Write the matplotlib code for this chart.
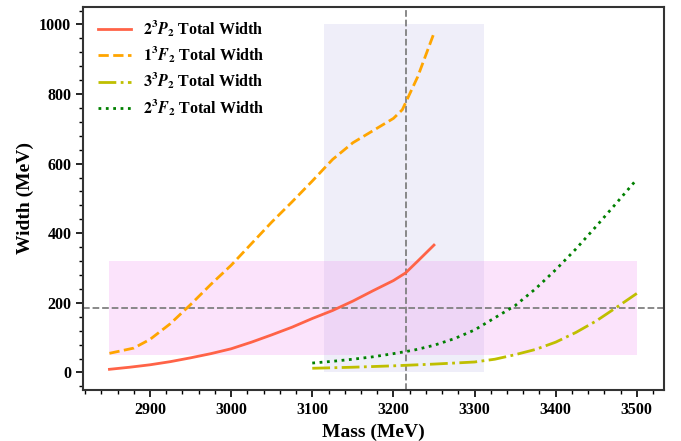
import matplotlib.pyplot as plt
from matplotlib.ticker import MultipleLocator

plt.rcParams['font.family'] = 'Liberation Serif'
plt.rcParams['font.weight'] = 'bold'
plt.rcParams['mathtext.fontset'] = 'stix'

# 2^3P_2
m_2p = [2850, 2875, 2900, 2925, 2950, 2975, 3000, 3025, 3050, 3075, 3100,
        3125, 3150, 3175, 3200, 3215, 3230, 3250]
w_2p = [9, 15, 22, 31, 42, 54, 68, 87, 108, 130, 155,
        178, 205, 235, 264, 286, 320, 366]

# 1^3F_2
m_1f = [2850, 2880, 2900, 2925, 2950, 2975, 3000, 3025, 3050, 3075, 3100,
        3125, 3150, 3175, 3200, 3211, 3230, 3250]
w_1f = [55, 70, 95, 140, 195, 253, 308, 370, 432, 490, 550,
        612, 660, 695, 730, 755, 850, 975]

# 3^3P_2
m_3p = [3100, 3150, 3200, 3250, 3300, 3325, 3350, 3375, 3400, 3425, 3450, 3475, 3500]
w_3p = [12, 15, 19, 24, 30, 38, 51, 66, 87, 115, 148, 187, 227]

# 2^3F_2
m_2f = [3100, 3125, 3150, 3175, 3200, 3225, 3250, 3275, 3300, 3325, 3350,
        3375, 3400, 3425, 3450, 3475, 3500]
w_2f = [27, 32, 38, 45, 54, 64, 78, 97, 122, 157, 192,
        240, 295, 355, 420, 487, 555]

# experimental mass / width bands
mass_c, mass_lo, mass_hi = 3215, 3115, 3312
width_c, width_lo, width_hi = 186, 50, 320

fig = plt.figure(figsize=(6.81, 4.41), dpi=100)
ax = fig.add_axes([0.122, 0.116, 0.853, 0.868])

ax.fill_between([mass_lo, mass_hi], 0, 1000, color='slateblue', alpha=0.1, lw=0)
ax.fill_between([2850, 3500], width_lo, width_hi, color='violet', alpha=0.22, lw=0)
ax.axvline(mass_c, color='gray', ls='--', lw=1.3)
ax.axhline(width_c, color='gray', ls='--', lw=1.3)

ax.plot(m_2p, w_2p, '-', color='tomato', lw=2, label=r'$2^3P_2$ Total Width')
ax.plot(m_1f, w_1f, '--', color='orange', lw=2, label=r'$1^3F_2$ Total Width')
ax.plot(m_3p, w_3p, '-.', color='y', lw=2, label=r'$3^3P_2$ Total Width')
ax.plot(m_2f, w_2f, ':', color='green', lw=2, label=r'$2^3F_2$ Total Width')

ax.set_xlim(2817.5, 3533.5)
ax.set_ylim(-50, 1050)
ax.xaxis.set_major_locator(MultipleLocator(100))
ax.xaxis.set_minor_locator(MultipleLocator(20))
ax.yaxis.set_major_locator(MultipleLocator(200))
ax.yaxis.set_minor_locator(MultipleLocator(40))
ax.tick_params(which='major', length=5, width=1.2, labelsize=11.5)
ax.tick_params(which='minor', length=3, width=1)
for s in ax.spines.values():
    s.set_linewidth(1.5)
    s.set_color('#333333')

ax.set_xlabel('Mass (MeV)', fontsize=14, fontweight='bold')
ax.set_ylabel('Width (MeV)', fontsize=14, fontweight='bold')

ax.legend(loc='upper left', bbox_to_anchor=(-0.002, 1.011), frameon=False,
          fontsize=11.5, handlelength=2.1, handletextpad=0.7,
          labelspacing=0.35, borderaxespad=0.6)

fig.savefig('out.png', dpi=100)
